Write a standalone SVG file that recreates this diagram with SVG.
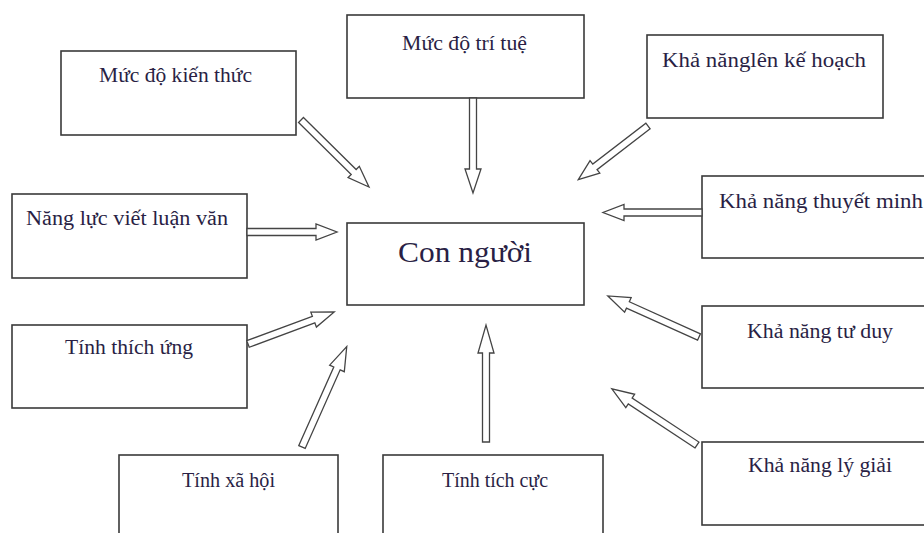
<svg xmlns="http://www.w3.org/2000/svg" width="924" height="533" viewBox="0 0 924 533">
<style>
.box{fill:#fff;stroke:#3a3a3a;stroke-width:1.6}
.t{font-family:"Liberation Serif","Times New Roman",serif;font-size:20px;fill:#2a1f45}
.big{font-size:30px}
.arr{fill:#fff;stroke:#444;stroke-width:1.3;stroke-linejoin:miter}
</style>
<rect width="924" height="533" fill="#fff"/>
<g id="n-kienthuc"><rect class="box" x="61" y="51" width="235" height="84"/><text class="t" x="99" y="82" textLength="153" lengthAdjust="spacingAndGlyphs">Mức độ kiến thức</text></g>
<g id="n-tritue"><rect class="box" x="347" y="15" width="237" height="83"/><text class="t" x="402" y="50" textLength="125" lengthAdjust="spacingAndGlyphs">Mức độ trí tuệ</text></g>
<g id="n-kehoach"><rect class="box" x="647" y="35" width="236" height="83"/><text class="t" x="662" y="67" textLength="204" lengthAdjust="spacingAndGlyphs">Khả nănglên kế hoạch</text></g>
<g id="n-thuyetminh"><rect class="box" x="702" y="176" width="230" height="82"/><text class="t" x="719" y="208" textLength="204" lengthAdjust="spacingAndGlyphs">Khả năng thuyết minh</text></g>
<g id="n-luanvan"><rect class="box" x="12" y="194" width="235" height="84"/><text class="t" x="26" y="225" textLength="202" lengthAdjust="spacingAndGlyphs">Năng lực viết luận văn</text></g>
<g id="n-conguoi"><rect class="box" x="347" y="223" width="237" height="82"/><text class="t big" x="398" y="262" textLength="134" lengthAdjust="spacingAndGlyphs">Con người</text></g>
<g id="n-thichung"><rect class="box" x="12" y="325" width="235" height="83"/><text class="t" x="65" y="354" textLength="128" lengthAdjust="spacingAndGlyphs">Tính thích ứng</text></g>
<g id="n-tuduy"><rect class="box" x="702" y="306" width="230" height="82"/><text class="t" x="747" y="338" textLength="146" lengthAdjust="spacingAndGlyphs">Khả năng tư duy</text></g>
<g id="n-lygiai"><rect class="box" x="702" y="442" width="230" height="83"/><text class="t" x="748" y="472" textLength="144" lengthAdjust="spacingAndGlyphs">Khả năng lý giải</text></g>
<g id="n-xahoi"><rect class="box" x="119" y="455" width="219" height="90"/><text class="t" x="182" y="487" textLength="93" lengthAdjust="spacingAndGlyphs">Tính xã hội</text></g>
<g id="n-tichcuc"><rect class="box" x="383" y="455" width="220" height="90"/><text class="t" x="442" y="487" textLength="106" lengthAdjust="spacingAndGlyphs">Tính tích cực</text></g>
<g id="connectors">
<path class="arr" transform="translate(301,120) rotate(44.6)" d="M0,-3.5 L74,-3.5 L74,-8 L95.5,0 L74,8 L74,3.5 L0,3.5 Z"/>
<path class="arr" transform="translate(473,98) rotate(90)" d="M0,-3.5 L71,-3.5 L71,-8 L95,0 L71,8 L71,3.5 L0,3.5 Z"/>
<path class="arr" transform="translate(648,126) rotate(142.4)" d="M0,-3.5 L67,-3.5 L67,-8 L88,0 L67,8 L67,3.5 L0,3.5 Z"/>
<path class="arr" transform="translate(702,212.5) rotate(180)" d="M0,-3.5 L78,-3.5 L78,-8 L99,0 L78,8 L78,3.5 L0,3.5 Z"/>
<path class="arr" transform="translate(247,232) rotate(0)" d="M0,-3.5 L69,-3.5 L69,-8 L90,0 L69,8 L69,3.5 L0,3.5 Z"/>
<path class="arr" transform="translate(248,344) rotate(-20.4)" d="M0,-3.5 L70,-3.5 L70,-8 L92,0 L70,8 L70,3.5 L0,3.5 Z"/>
<path class="arr" transform="translate(302,447) rotate(-66)" d="M0,-3.5 L86,-3.5 L86,-8 L110,0 L86,8 L86,3.5 L0,3.5 Z"/>
<path class="arr" transform="translate(486,442) rotate(-90)" d="M0,-3.5 L89,-3.5 L89,-8 L117,0 L89,8 L89,3.5 L0,3.5 Z"/>
<path class="arr" transform="translate(699,337) rotate(-155.75)" d="M0,-3.5 L78,-3.5 L78,-8 L100,0 L78,8 L78,3.5 L0,3.5 Z"/>
<path class="arr" transform="translate(697,445) rotate(-146.6)" d="M0,-3.5 L80,-3.5 L80,-8 L102,0 L80,8 L80,3.5 L0,3.5 Z"/>
</g>
</svg>
